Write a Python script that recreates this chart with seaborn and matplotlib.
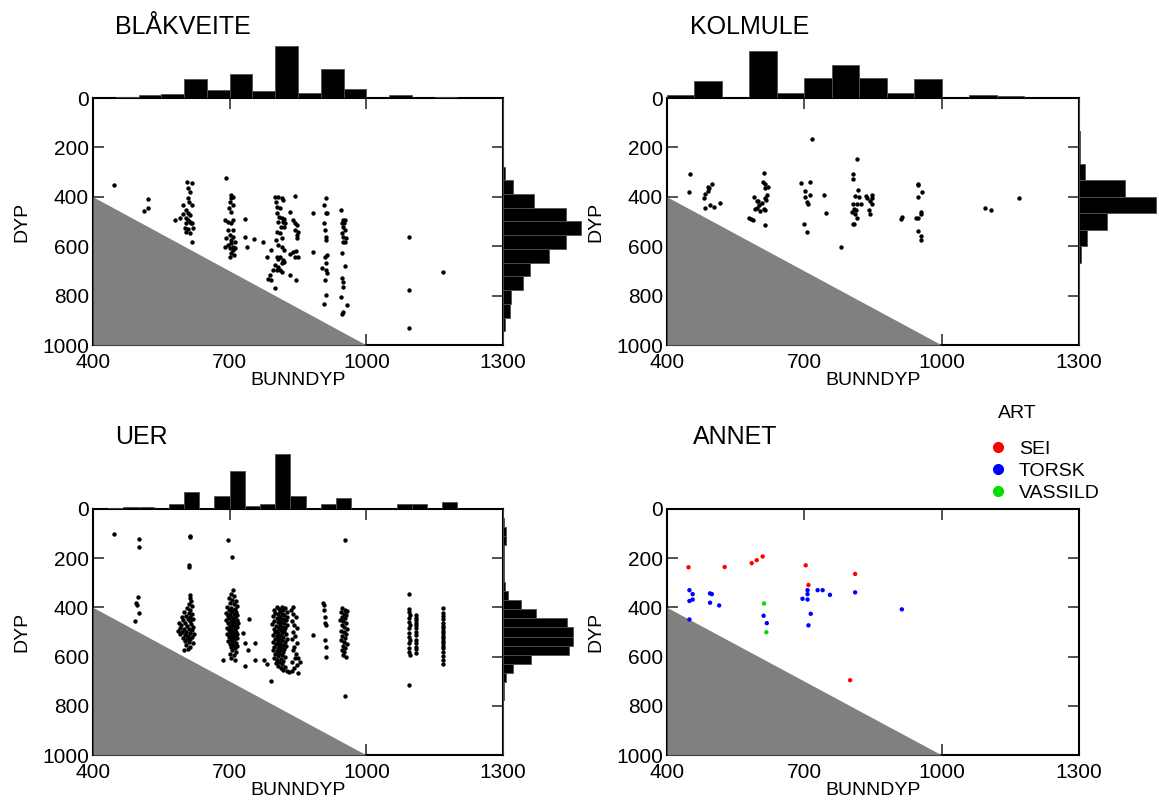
import numpy as np
import pandas as pd
import matplotlib.pyplot as plt
from matplotlib.lines import Line2D
import seaborn as sns

sns.set_style('ticks')
plt.rcParams['font.family'] = ['Liberation Sans', 'DejaVu Sans']
plt.rcParams['text.color'] = 'black'
plt.rcParams['axes.labelcolor'] = 'black'
plt.rcParams['xtick.labelcolor'] = 'black'
plt.rcParams['ytick.labelcolor'] = 'black'

W, H = 1159, 805

# akser
BUNNDYP_TICKS = [400, 700, 1000, 1300]
DYP_TICKS = [0, 200, 400, 600, 800, 1000]
SEABED = [400, 1000]  # linja der DYP = BUNNDYP

# BLÅKVEITE (bunndyp, dyp)
bla_points = [
    (447, 351), (512, 456), (521, 409), (521, 444), (579, 494), (590, 487), (597, 471),
    (606, 339), (617, 343), (609, 366), (612, 379), (608, 406), (611, 420), (598, 433), (617, 433),
    (604, 454), (609, 467), (613, 474), (604, 487), (609, 494), (612, 501), (615, 505), (604, 508),
    (618, 508), (602, 528), (609, 532), (619, 528), (604, 541), (613, 548), (617, 584),
    (693, 325), (704, 393), (708, 400), (704, 406), (701, 420), (707, 433), (699, 447), (704, 460),
    (690, 494), (708, 494), (697, 501), (704, 508), (708, 535), (697, 535), (701, 555), (693, 568),
    (708, 562), (704, 575), (712, 582), (690, 602), (697, 595), (704, 588), (708, 602), (701, 609),
    (712, 609), (707, 616), (704, 626), (710, 636), (701, 642),
    (734, 491), (734, 562), (737, 602), (754, 572), (774, 582),
    (800, 402), (807, 400), (814, 406), (802, 420), (816, 413), (843, 397), (803, 440), (810, 447),
    (832, 460), (803, 467), (809, 481), (814, 487), (819, 491), (816, 501), (807, 501), (821, 508),
    (840, 494), (843, 508), (847, 514), (812, 521), (819, 521), (843, 535), (849, 541), (847, 555),
    (847, 568), (803, 541), (810, 548), (814, 568), (802, 575), (790, 616), (807, 595), (814, 602),
    (819, 616), (840, 622), (846, 618), (832, 632), (843, 642), (849, 645), (781, 645), (803, 645),
    (807, 653), (810, 645), (816, 656), (819, 663), (814, 670), (800, 676), (807, 686), (810, 697),
    (803, 697), (814, 703), (796, 697), (789, 717), (785, 734), (790, 737), (832, 717), (846, 737),
    (800, 771), (884, 467), (884, 622),
    (906, 433), (911, 406), (911, 467), (913, 467), (906, 508), (909, 535), (911, 562), (911, 575),
    (909, 642), (913, 636), (911, 667), (903, 690), (911, 697), (913, 710), (909, 737), (911, 798),
    (907, 834),
    (944, 454), (948, 494), (953, 494), (946, 508), (951, 508), (948, 521), (953, 535), (946, 548),
    (949, 562), (955, 568), (948, 582), (953, 582), (946, 629), (953, 680), (946, 730), (949, 744),
    (948, 764), (944, 805), (957, 838), (948, 865), (947, 875),
    (1094, 562), (1094, 778), (1094, 930), (1169, 706),
]
bla_top_counts = [0, 2, 4, 6, 28, 12, 36, 10, 78, 7, 44, 13, 0, 4, 0, 2, 0, 0]
bla_right_counts = [0, 0, 0, 0, 0, 3, 15, 46, 95, 117, 95, 69, 40, 30, 12, 10, 3, 0]

# KOLMULE
kol_points = [
    (716, 167), (816, 248), (451, 308), (612, 305), (806, 308), (806, 329), (489, 362), (499, 350),
    (609, 339), (614, 348), (620, 359), (692, 343), (712, 340), (949, 348),
    (449, 380), (481, 404), (483, 388), (489, 377), (492, 366), (484, 444), (494, 434), (502, 442),
    (515, 427), (590, 400), (596, 417), (602, 434), (596, 444), (592, 451), (603, 458), (599, 417),
    (614, 364), (618, 391), (614, 404), (607, 424), (617, 411), (580, 485), (584, 491), (588, 495),
    (611, 451), (614, 455), (613, 516),
    (701, 377), (712, 391), (701, 400), (705, 422), (707, 428), (699, 509), (705, 543),
    (744, 391), (748, 467), (780, 602),
    (810, 397), (818, 374), (820, 401), (806, 428), (814, 431), (808, 448), (812, 455), (805, 462),
    (810, 471), (814, 485), (808, 509), (806, 509),
    (823, 428), (835, 397), (836, 404), (843, 417), (847, 391), (847, 404), (847, 428), (842, 455),
    (844, 471), (913, 482), (912, 489),
    (949, 353), (949, 400), (958, 380), (954, 461), (955, 471), (949, 487), (943, 487), (949, 538),
    (955, 559), (954, 576), (1094, 444), (1107, 455), (1169, 404),
]
kol_top_counts = [5, 26, 0, 70, 8, 30, 50, 30, 8, 28, 0, 5, 3, 0, 0]
kol_right_counts = [0, 0, 2, 2, 9, 69, 115, 42, 12, 3, 0, 0, 0, 0, 0]

# UER
uer_points = [
    (445, 103), (500, 120), (500, 153), (612, 110), (614, 115), (697, 125), (953, 125), (705, 196),
    (610, 228), (610, 235), (1094, 345), (707, 329),
    (498, 356), (494, 381), (496, 390), (501, 421), (492, 454),
    (612, 350), (614, 362), (616, 372), (611, 385), (618, 395), (606, 402), (613, 410), (600, 418),
    (610, 421), (618, 428), (604, 433), (613, 437), (595, 440), (608, 446), (620, 448), (598, 453),
    (612, 457), (588, 462), (603, 465), (616, 468), (594, 472), (607, 476), (620, 479), (590, 483),
    (600, 486), (611, 489), (617, 492), (586, 495), (596, 498), (605, 501), (614, 504), (621, 507),
    (592, 510), (601, 513), (609, 516), (618, 519), (598, 523), (606, 527), (614, 530), (603, 535),
    (611, 540), (619, 545), (605, 552), (613, 560), (608, 568), (600, 575),
    (703, 345), (710, 352), (698, 360), (706, 368), (713, 374), (700, 381), (709, 387), (716, 393),
    (694, 398), (703, 402), (711, 406), (698, 410), (706, 414), (714, 418), (691, 422), (701, 425),
    (709, 428), (717, 431), (696, 435), (704, 438), (712, 441), (699, 444), (707, 447), (715, 450),
    (693, 453), (702, 456), (710, 459), (718, 462), (697, 465), (705, 468), (713, 471), (700, 474),
    (708, 477), (716, 480), (694, 483), (703, 486), (711, 489), (698, 492), (706, 495), (714, 498),
    (701, 501), (709, 504), (717, 507), (695, 510), (704, 513), (712, 516), (699, 519), (707, 522),
    (715, 525), (702, 529), (710, 533), (697, 537), (705, 541), (713, 545), (700, 549), (708, 553),
    (716, 557), (703, 562), (711, 567), (706, 573), (714, 580), (701, 588), (709, 595), (704, 605),
    (712, 615), (686, 614),
    (729, 505), (742, 448), (734, 546), (755, 543), (740, 573), (755, 614), (734, 638), (775, 614),
    (781, 630), (790, 698), (884, 512),
    (803, 397), (815, 399), (822, 402), (808, 405), (797, 409), (818, 412), (811, 416), (825, 419),
    (800, 422), (814, 425), (806, 428), (820, 431), (795, 434), (811, 437), (826, 440), (803, 443),
    (817, 446), (809, 449), (823, 452), (798, 455), (813, 458), (805, 461), (820, 464), (794, 467),
    (810, 470), (826, 473), (802, 476), (816, 479), (808, 482), (822, 485), (797, 488), (812, 491),
    (804, 494), (819, 497), (800, 500), (815, 503), (807, 506), (823, 509), (796, 512), (811, 515),
    (803, 518), (818, 521), (809, 524), (825, 527), (799, 530), (814, 533), (806, 536), (821, 539),
    (795, 542), (810, 545), (802, 548), (817, 551), (808, 554), (824, 557), (798, 560), (813, 563),
    (805, 566), (820, 569), (796, 572), (811, 575), (803, 578), (818, 581), (808, 585), (800, 589),
    (815, 593), (806, 597), (821, 601), (797, 605), (812, 609), (804, 613), (818, 617), (809, 622),
    (801, 627), (815, 632), (807, 637), (822, 642), (812, 648), (818, 655), (826, 660), (831, 664),
    (840, 400), (835, 410), (838, 425), (845, 440), (836, 455), (842, 470), (848, 485), (838, 500),
    (844, 515), (836, 530), (847, 545), (841, 560), (838, 575), (846, 590), (843, 605), (837, 620),
    (848, 635), (842, 648), (836, 660), (850, 668), (851, 607), (854, 620),
    (904, 383), (906, 390), (908, 410), (909, 437), (909, 464), (911, 471), (909, 532), (911, 562),
    (911, 600),
    (946, 404), (953, 410), (958, 415), (944, 420), (950, 426), (956, 432), (947, 438), (953, 444),
    (943, 450), (949, 456), (955, 462), (946, 470), (952, 478), (958, 486), (944, 494), (950, 502),
    (956, 510), (947, 518), (953, 526), (945, 534), (951, 542), (957, 550), (948, 558), (954, 566),
    (946, 574), (952, 582), (949, 592), (955, 602), (953, 760),
    (1094, 408), (1093, 417), (1095, 431), (1094, 444), (1093, 458), (1095, 471), (1094, 485),
    (1094, 503), (1093, 519), (1095, 533), (1094, 546), (1094, 566), (1093, 580), (1095, 593),
    (1094, 715),
    (1109, 431), (1109, 444), (1109, 451), (1109, 465), (1109, 471), (1109, 485), (1109, 498),
    (1109, 512), (1109, 532), (1109, 546), (1109, 559), (1109, 570), (1109, 584),
    (1169, 404), (1169, 421), (1169, 435), (1169, 448), (1169, 462), (1169, 475), (1169, 485),
    (1169, 494), (1169, 505), (1169, 516), (1169, 525), (1169, 535), (1169, 546), (1169, 557),
    (1169, 566), (1169, 580), (1169, 597), (1169, 614), (1169, 630),
]
uer_top_counts = [0, 1, 3, 3, 0, 7, 26, 0, 19, 57, 5, 8, 83, 20, 0, 7, 17, 0, 0, 0, 7, 7, 0, 11, 0, 0, 0]
uer_right_counts = [0, 1, 4, 4, 1, 1, 1, 1, 3, 7, 27, 50, 96, 105, 105, 99, 42, 15, 4, 1, 1, 0, 0, 0, 0, 0, 0]

# ANNET
sei_points = [(447, 237), (526, 236), (585, 220), (596, 208), (609, 193), (703, 229), (811, 264),
              (709, 309), (800, 696)]
torsk_points = [(449, 330), (456, 346), (494, 343), (498, 346), (707, 330), (707, 346), (729, 330),
                (740, 330), (756, 349), (811, 339), (696, 365), (707, 368), (449, 374), (456, 368),
                (494, 381), (514, 392), (449, 449), (611, 434), (618, 464), (714, 426), (709, 473),
                (913, 408)]
vassild_points = [(612, 384), (617, 501)]
art_names = ['SEI', 'TORSK', 'VASSILD']
art_colors = ['#ff0000', '#0000ff', '#00e000']


def frac(left, top, w, h):
    return [left / W, 1 - (top + h) / H, w / W, h / H]


def main_axes(fig, rect):
    ax = fig.add_axes(frac(*rect))
    ax.fill_between(SEABED, SEABED, DYP_TICKS[-1], color='#808080', lw=0, zorder=3)
    ax.set_xlim(BUNNDYP_TICKS[0], BUNNDYP_TICKS[-1])
    ax.set_ylim(DYP_TICKS[-1], DYP_TICKS[0])
    ax.set_xticks(BUNNDYP_TICKS)
    ax.set_yticks(DYP_TICKS)
    ax.tick_params(direction='in', length=8, width=1.2, top=True, right=True,
                   labelsize=15, color='#333333', labelcolor='black')
    ax.tick_params(axis='x', pad=6)
    ax.tick_params(axis='y', pad=3)
    for s in ax.spines.values():
        s.set_linewidth(1.5)
        s.set_color('black')
    return ax


def label_axes(ax):
    ax.set_xlabel('BUNNDYP', fontsize=14, labelpad=0, color='black')
    ax.set_ylabel('DYP', fontsize=14, labelpad=8, color='black')


def add_hists(fig, rect, top_counts, right_counts):
    left, top, w, h = rect
    axt = fig.add_axes(frac(left, top - 60, w, 60))
    edges = np.linspace(BUNNDYP_TICKS[0], BUNNDYP_TICKS[-1], len(top_counts) + 1)
    sns.histplot(x=list((edges[:-1] + edges[1:]) / 2), weights=top_counts,
                 bins=len(top_counts), binrange=(BUNNDYP_TICKS[0], BUNNDYP_TICKS[-1]), ax=axt,
                 color='black', alpha=1, edgecolor='#505050', linewidth=0.6)
    axt.set_xlim(BUNNDYP_TICKS[0], BUNNDYP_TICKS[-1])
    axt.set_ylim(0, 90)
    axt.axis('off')

    axr = fig.add_axes(frac(left + w, top, 80, h))
    edges = np.linspace(DYP_TICKS[0], DYP_TICKS[-1], len(right_counts) + 1)
    sns.histplot(y=list((edges[:-1] + edges[1:]) / 2), weights=right_counts,
                 bins=len(right_counts), binrange=(DYP_TICKS[0], DYP_TICKS[-1]), ax=axr,
                 color='black', alpha=1, edgecolor='#505050', linewidth=0.6)
    axr.set_ylim(DYP_TICKS[-1], DYP_TICKS[0])
    axr.set_xlim(0, 120)
    axr.axis('off')


fig = plt.figure(figsize=(W / 100, H / 100), dpi=100)

panels = [
    ('BLÅKVEITE', (93, 98, 410, 247), (115, 27), bla_points, bla_top_counts, bla_right_counts),
    ('KOLMULE', (667, 98, 412, 247), (690, 27), kol_points, kol_top_counts, kol_right_counts),
    ('UER', (93, 509, 410, 246), (115, 437), uer_points, uer_top_counts, uer_right_counts),
]

for title, rect, txy, pts, tc, rc in panels:
    ax = main_axes(fig, rect)
    df = pd.DataFrame(pts, columns=['BUNNDYP', 'DYP'])
    sns.scatterplot(data=df, x='BUNNDYP', y='DYP', ax=ax, color='black', s=10,
                    linewidth=0, zorder=4)
    label_axes(ax)
    add_hists(fig, rect, tc, rc)
    fig.text(txy[0] / W, 1 - txy[1] / H, title, fontsize=18, ha='left', va='center',
             color='black')

# ANNET
ax = main_axes(fig, (667, 509, 412, 246))
annet = pd.concat([
    pd.DataFrame(p, columns=['BUNNDYP', 'DYP']).assign(ART=n)
    for p, n in zip([sei_points, torsk_points, vassild_points], art_names)
], ignore_index=True)
sns.scatterplot(data=annet, x='BUNNDYP', y='DYP', hue='ART', hue_order=art_names,
                palette=dict(zip(art_names, art_colors)), ax=ax, s=10, linewidth=0,
                zorder=4, legend=False)
label_axes(ax)
fig.text(693 / W, 1 - 437 / H, 'ANNET', fontsize=18, ha='left', va='center', color='black')

handles = [Line2D([0], [0], marker='o', ls='', markerfacecolor=c, markeredgecolor=c,
                  markersize=7) for c in art_colors]
fig.text(998 / W, 1 - 413 / H, 'ART', fontsize=14, ha='left', va='center', color='black')
leg = fig.legend(handles, art_names, loc='upper left',
                 bbox_to_anchor=(986 / W, 1 - 440 / H), frameon=False, fontsize=14,
                 handletextpad=0.5, labelspacing=0.23, borderaxespad=0, borderpad=0,
                 handlelength=1.2)
for t in leg.get_texts():
    t.set_color('black')

fig.savefig('out.png', dpi=100)
